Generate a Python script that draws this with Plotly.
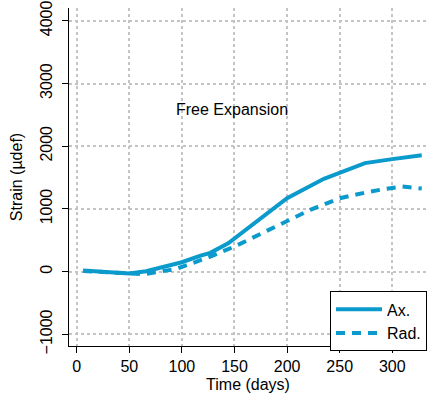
import plotly.graph_objects as go

ax_days = [6, 50, 66, 80, 100, 117, 127, 144, 170, 200, 235, 274, 300, 328]
ax_strain = [16, -30, 5, 60, 150, 250, 300, 453, 780, 1171, 1480, 1730, 1794, 1855]

rad_days = [6, 50, 64, 79, 95, 110, 127, 150, 193, 222, 250, 263, 279, 294, 309, 328]
rad_strain = [10, -40, -40, 0, 45, 135, 240, 400, 745, 985, 1170, 1220, 1277, 1320, 1357, 1325]

x_ticks = [0, 50, 100, 150, 200, 250, 300]
y_ticks = [-1000, 0, 1000, 2000, 3000, 4000]

color = "#0a9acb"
font = "Liberation Sans, Arial, Helvetica, sans-serif"
fs = 16

fig = go.Figure()
fig.add_trace(go.Scatter(x=ax_days, y=ax_strain, mode="lines", name="Ax.",
                         line=dict(color=color, width=4)))
fig.add_trace(go.Scatter(x=rad_days, y=rad_strain, mode="lines", name="Rad.",
                         line=dict(color=color, width=4, dash="9px,7px")))

fig.add_annotation(x=147.6, y=2581, text="Free Expansion", showarrow=False,
                   font=dict(size=fs, color="black", family=font))

fig.update_layout(
    width=427, height=397,
    margin=dict(l=69, r=0, t=8, b=51),
    paper_bgcolor="white", plot_bgcolor="white",
    font=dict(family=font, size=fs, color="black"),
    showlegend=True,
    legend=dict(x=1, y=-0.016, xanchor="right", yanchor="bottom",
                bordercolor="black", borderwidth=1, bgcolor="white",
                itemwidth=46,
                font=dict(size=fs, family=font, color="black")),
    xaxis=dict(range=[-7.3, 333], tickvals=x_ticks, showline=True, linecolor="black",
               linewidth=1, ticks="outside", ticklen=6, tickcolor="black",
               tickfont=dict(size=fs, family=font, color="black"),
               showgrid=True, gridcolor="#c4c4c4", griddash="3px,3px", gridwidth=1.5,
               zeroline=False,
               title=dict(text="Time (days)", standoff=4,
                          font=dict(size=fs, family=font, color="black"))),
    yaxis=dict(range=[-1186, 4204], tickvals=y_ticks, showline=True, linecolor="black",
               linewidth=1, ticks="outside", ticklen=6, tickcolor="black", tickangle=-90,
               ticklabelstandoff=4,
               tickfont=dict(size=fs, family=font, color="black"),
               showgrid=True, gridcolor="#c4c4c4", griddash="3px,3px", gridwidth=1.5,
               zeroline=False,
               title=dict(text="Strain (µdef)", standoff=10,
                          font=dict(size=fs, family=font, color="black"))),
)

fig.write_html("out.html")
